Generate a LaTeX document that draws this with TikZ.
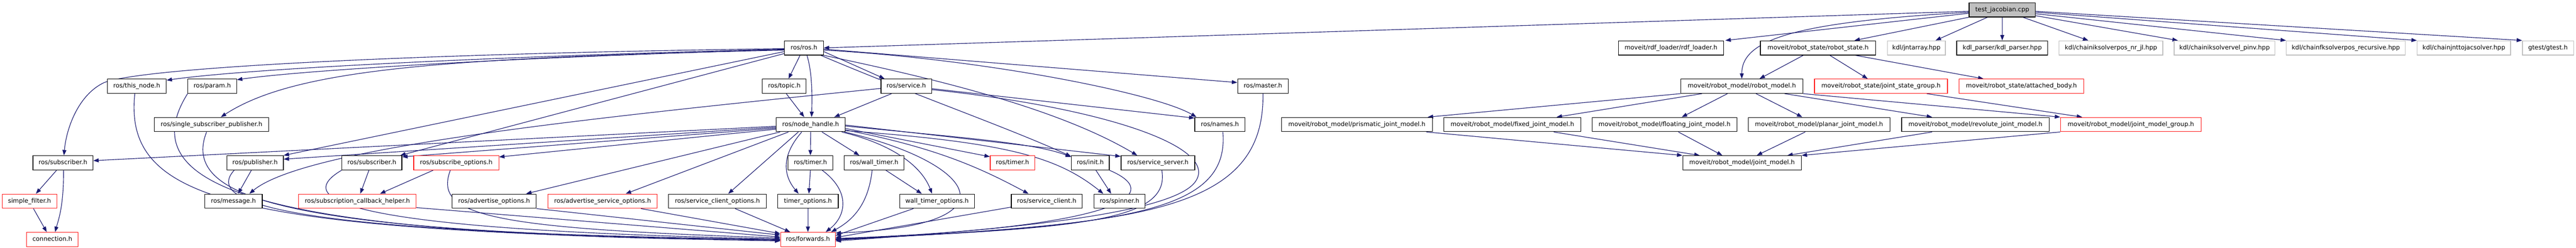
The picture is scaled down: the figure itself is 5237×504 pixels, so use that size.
\documentclass[tikz,border=0pt]{standalone}
\usepackage{fontspec}
\setmainfont{DejaVu Sans}
\usetikzlibrary{arrows.meta}
\definecolor{edgec}{RGB}{25,25,112}
\definecolor{grayb}{RGB}{191,191,191}
\definecolor{redb}{RGB}{255,20,20}
\pgfdeclarelayer{bg}
\pgfdeclarelayer{edges}
\pgfsetlayers{bg,edges,main}
\tikzset{
  bb/.style={draw=black, line width=1.3pt, fill=white, minimum height=29pt, inner sep=0pt,
    text height=9.5pt, text depth=2.8pt, font=\fontsize{12.5}{15}\selectfont},
  rb/.style={bb, draw=redb},
  gb/.style={bb, draw=grayb},
  e/.style={draw=edgec, line width=1.2pt, -{Triangle[length=11pt,width=8pt]}},
}
\begin{document}
\begin{tikzpicture}[x=1pt,y=-1pt]
\begin{pgfonlayer}{bg}
\fill[white] (0,0) rectangle (5237,504);
\end{pgfonlayer}
\useasboundingbox (0,0) rectangle (5237,504);
% row 0
\node[bb, fill=grayb, minimum width=135pt] (tj) at (4070.5,20) {test\_jacobian.cpp};
% row 1
\node[bb, minimum width=79pt] (ros) at (1634.5,97.5) {ros/ros.h};
\node[bb, minimum width=214pt] (rdf) at (3397,97.5) {moveit/rdf\_loader/rdf\_loader.h};
\node[bb, minimum width=234pt] (rs) at (3696,97.5) {moveit/robot\_state/robot\_state.h};
\node[gb, minimum width=118pt] (jnt) at (3896,97.5) {kdl/jntarray.hpp};
\node[bb, minimum width=185pt] (kdlp) at (4070.5,97.5) {kdl\_parser/kdl\_parser.hpp};
\node[gb, minimum width=211pt] (iknr) at (4291.5,97.5) {kdl/chainiksolverpos\_nr\_jl.hpp};
\node[gb, minimum width=205pt] (ikvel) at (4522.5,97.5) {kdl/chainiksolvervel\_pinv.hpp};
\node[gb, minimum width=242pt] (fk) at (4769,97.5) {kdl/chainfksolverpos\_recursive.hpp};
\node[gb, minimum width=190pt] (jac) at (5009,97.5) {kdl/chainjnttojacsolver.hpp};
\node[gb, minimum width=104pt] (gtest) at (5180,97.5) {gtest/gtest.h};
% row 2
\node[bb, minimum width=120pt] (thisnode) at (278,175.5) {ros/this\_node.h};
\node[bb, minimum width=99pt] (param) at (431.5,175.5) {ros/param.h};
\node[bb, minimum width=89pt] (topic) at (1594.5,175.5) {ros/topic.h};
\node[bb, minimum width=103pt] (service) at (1842.5,175.5) {ros/service.h};
\node[bb, minimum width=103pt] (master) at (2567.5,175.5) {ros/master.h};
\node[bb, minimum width=248pt] (rm) at (3541,175.5) {moveit/robot\_model/robot\_model.h};
\node[rb, minimum width=270pt] (jsg) at (3824,175.5) {moveit/robot\_state/joint\_state\_group.h};
\node[rb, minimum width=253pt] (ab) at (4109.5,175.5) {moveit/robot\_state/attached\_body.h};
% row 3
\node[bb, minimum width=232pt] (ssp) at (430,253.5) {ros/single\_subscriber\_publisher.h};
\node[bb, minimum width=140pt] (nh) at (1648,253.5) {ros/node\_handle.h};
\node[bb, minimum width=102pt] (names) at (2480,253.5) {ros/names.h};
\node[bb, minimum width=307pt] (prism) at (2758.5,253.5) {moveit/robot\_model/prismatic\_joint\_model.h};
\node[bb, minimum width=279pt] (fixed) at (3074.5,253.5) {moveit/robot\_model/fixed\_joint\_model.h};
\node[bb, minimum width=294pt] (flt) at (3384,253.5) {moveit/robot\_model/floating\_joint\_model.h};
\node[bb, minimum width=288pt] (planar) at (3698,253.5) {moveit/robot\_model/planar\_joint\_model.h};
\node[bb, minimum width=300pt] (revol) at (4016,253.5) {moveit/robot\_model/revolute\_joint\_model.h};
\node[rb, minimum width=286pt] (jmg) at (4332,253.5) {moveit/robot\_model/joint\_model\_group.h};
% row 4
\node[bb, minimum width=122pt] (subL) at (128,331.5) {ros/subscriber.h};
\node[bb, minimum width=115pt] (pub) at (518.5,331.5) {ros/publisher.h};
\node[bb, minimum width=122pt] (sub2) at (756,331.5) {ros/subscriber.h};
\node[rb, minimum width=173pt] (subopt) at (927.5,331.5) {ros/subscribe\_options.h};
\node[bb, minimum width=91pt] (timerB) at (1647.5,331.5) {ros/timer.h};
\node[bb, minimum width=122pt] (wtimer) at (1777,331.5) {ros/wall\_timer.h};
\node[rb, minimum width=91pt] (timerR) at (2058.5,331.5) {ros/timer.h};
\node[bb, minimum width=77pt] (init) at (2216.5,331.5) {ros/init.h};
\node[bb, minimum width=150pt] (ssrv) at (2354,331.5) {ros/service\_server.h};
\node[bb, minimum width=241pt] (jm) at (3541.5,331.5) {moveit/robot\_model/joint\_model.h};
% row 5
\node[rb, minimum width=111pt] (sf) at (60,409.5) {simple\_filter.h};
\node[bb, minimum width=117pt] (msg) at (474.5,409.5) {ros/message.h};
\node[rb, minimum width=239pt] (sch) at (726.5,409.5) {ros/subscription\_callback\_helper.h};
\node[bb, minimum width=171pt] (advo) at (1004.5,409.5) {ros/advertise\_options.h};
\node[rb, minimum width=222pt] (advso) at (1225,409.5) {ros/advertise\_service\_options.h};
\node[bb, minimum width=199pt] (sco) at (1458.5,409.5) {ros/service\_client\_options.h};
\node[bb, minimum width=123pt] (topt) at (1642.5,409.5) {timer\_options.h};
\node[bb, minimum width=152pt] (wto) at (1905,409.5) {wall\_timer\_options.h};
\node[bb, minimum width=144pt] (sc) at (2128,409.5) {ros/service\_client.h};
\node[bb, minimum width=104pt] (spin) at (2276,409.5) {ros/spinner.h};
% row 6
\node[rb, minimum width=105pt] (conn) at (106.5,487.5) {connection.h};
\node[rb, minimum width=111pt] (fwd) at (1642.5,487.5) {ros/forwards.h};

\begin{pgfonlayer}{edges}
% test_jacobian.cpp
\draw[e] ([yshift=-3pt]tj.west) -- (ros.east);
\draw[e] ([yshift=-7pt]tj.west) -- ([xshift=3pt]rdf.north east);
\draw[e] ([yshift=-5pt]tj.west) .. controls (3650,45) and (3541,80) .. (rm.north);
\draw[e] (tj.south west) -- ([xshift=74pt]rs.north);
\draw[e] ([xshift=-30pt]tj.south) -- ([xshift=39pt]jnt.north);
\draw[e] (tj.south) -- (kdlp.north);
\draw[e] ([xshift=42pt]tj.south) -- ([xshift=-46pt]iknr.north);
\draw[e] ([yshift=-12pt]tj.east) -- ([xshift=-95pt]ikvel.north);
\draw[e] ([yshift=-8pt]tj.east) -- (fk.north west);
\draw[e] ([yshift=-5pt]tj.east) -- (jac.north west);
\draw[e] ([yshift=-3pt]tj.east) -- (gtest.north west);
% robot_state
\draw[e] ([xshift=-30pt]rs.south) -- ([xshift=36pt]rm.north);
\draw[e] ([xshift=24pt]rs.south) -- ([xshift=-27pt]jsg.north);
\draw[e] ([xshift=76pt]rs.south) -- ([xshift=-77pt]ab.north);
\draw[e] ([xshift=93pt]jsg.south) -- ([xshift=-99pt]jmg.north);
% robot_model
\draw[e] (rm.south west) -- ([xshift=144pt]prism.north);
\draw[e] ([xshift=-81pt]rm.south) -- ([xshift=90pt]fixed.north);
\draw[e] ([xshift=-29pt]rm.south) -- ([xshift=35pt]flt.north);
\draw[e] ([xshift=29pt]rm.south) -- ([xshift=-34pt]planar.north);
\draw[e] ([xshift=87pt]rm.south) -- ([xshift=-88pt]revol.north);
\draw[e] (rm.south east) -- (jmg.north west);
% joint models
\draw[e] ([xshift=141pt]prism.south) -- (jm.north west);
\draw[e] ([xshift=84pt]fixed.south) -- ([xshift=-86pt]jm.north);
\draw[e] ([xshift=28pt]flt.south) -- ([xshift=-40pt]jm.north);
\draw[e] ([xshift=-28pt]planar.south) -- ([xshift=30pt]jm.north);
\draw[e] ([xshift=-88pt]revol.south) -- ([xshift=92pt]jm.north);
\draw[e] (jmg.south west) -- (jm.north east);
% ros/ros.h
\draw[e] ([yshift=-2.5pt]ros.west) .. controls (1000,115) and (500,140) .. ([yshift=-3pt]thisnode.north east);
\draw[e] ([yshift=-3.5pt]ros.west) .. controls (1000,118) and (600,145) .. ([yshift=-2pt]param.north east);
\draw[e] ([yshift=-1.5pt]ros.west) .. controls (900,108) and (300,135) .. (212,168) .. controls (160,192) and (135,260) .. ([xshift=2pt]subL.north);
\draw[e] ([yshift=-4.5pt]ros.west) .. controls (900,118) and (600,140) .. ([xshift=19pt]ssp.north);
\draw[e] ([xshift=-8pt]ros.south) -- ([xshift=8.5pt]topic.north);
\draw[e] ([xshift=6pt]ros.south) .. controls (1652,150) and (1651,200) .. ([xshift=2pt]nh.north);
\draw[e] ([yshift=-7.5pt]ros.east) -- ([xshift=-44pt]service.north);
\draw[e] ([yshift=-2.5pt]ros.east) -- ([yshift=7.5pt]master.west);
\draw[e] ([yshift=-4.5pt]ros.east) .. controls (2000,120) and (2350,190) .. ([xshift=4pt]names.north west);
\draw[e] ([xshift=-6pt]ros.south east) .. controls (1850,190) and (2050,260) .. ([yshift=-2pt]init.north west);
\draw[e] (ros.south east) .. controls (1900,160) and (2150,220) .. ([xshift=-42pt]ssrv.north);
\draw[e] ([yshift=-7.5pt]ros.west) -- (pub.north east);
\draw[e] ([yshift=-11.5pt]ros.west) -- ([xshift=-4pt]sub2.north east);
\draw[e] ([xshift=4pt]topic.south) -- ([xshift=-13pt]nh.north);
% ros/service.h
\draw[e] ([xshift=-30pt]service.south) -- ([xshift=48pt]nh.north);
\draw[e] ([yshift=-5pt]service.east) -- ([yshift=-2pt]names.north west);
\draw[e] ([yshift=-4.5pt]service.west) .. controls (1200,240) and (620,300) .. ([xshift=32.5pt]msg.north);
\draw[e] ([yshift=-7pt]service.east) .. controls (2250,220) and (2480,300) .. (2430,370) .. controls (2380,440) and (2000,470) .. ([yshift=-3pt]fwd.east);
% master, names, service_server, init
\draw[e] (master.south) .. controls (2572,440) and (2300,455) .. ([yshift=-1pt]fwd.east);
\draw[e] ([xshift=6pt]names.south) .. controls (2500,430) and (2300,460) .. (fwd.east);
\draw[e] ([xshift=8pt]ssrv.south) .. controls (2380,450) and (2200,465) .. ([yshift=1pt]fwd.east);
\draw[e] (init.south east) .. controls (2380,400) and (2250,465) .. ([yshift=2pt]fwd.east);
\draw[e] ([xshift=11.5pt]init.south) -- ([xshift=-17pt]spin.north);
% ros/node_handle.h
\draw[e] ([yshift=-3.5pt]nh.west) -- ([yshift=4.5pt]subL.east);
\draw[e] ([yshift=-5.5pt]nh.west) -- ([yshift=7.5pt]pub.east);
\draw[e] ([yshift=-7.5pt]nh.west) -- ([yshift=-3pt]sub2.north east);
\draw[e] ([yshift=-9.5pt]nh.west) -- ([yshift=12pt]subopt.east);
\draw[e] ([xshift=-62pt]nh.south) -- ([xshift=65pt]advo.north);
\draw[e] ([xshift=-45pt]nh.south) -- ([xshift=47pt]advso.north);
\draw[e] ([xshift=-25pt]nh.south) -- ([xshift=22pt]sco.north);
\draw[e] ([xshift=-18pt]nh.south) .. controls (1585,320) and (1595,360) .. ([xshift=-19pt]topt.north);
\draw[e] (nh.south) -- (timerB.north);
\draw[e] ([xshift=23pt]nh.south) -- ([xshift=-30pt]wtimer.north);
\draw[e] ([xshift=63pt]nh.south) .. controls (1800,290) and (1870,330) .. ([xshift=-10pt]wto.north);
\draw[e] ([xshift=-2pt]nh.south east) .. controls (1980,330) and (2080,460) .. ([yshift=-2pt]fwd.north east);
\draw[e] ([yshift=-8pt]nh.east) -- ([yshift=12.5pt]timerR.west);
\draw[e] ([yshift=-11pt]nh.east) .. controls (1900,300) and (1990,340) .. ([xshift=-37pt]sc.north);
\draw[e] ([yshift=-3pt]nh.east) .. controls (1950,280) and (2100,290) .. ([yshift=12pt]init.west);
\draw[e] ([yshift=-1pt]nh.east) -- ([yshift=-2pt]ssrv.north west);
\draw[e] ([yshift=-12.5pt]nh.east) .. controls (2050,290) and (2150,320) .. ([xshift=-33pt]spin.north);
% timers
\draw[e] (timerB.south) -- ([xshift=2pt]topt.north);
\draw[e] ([xshift=24pt]timerB.south) .. controls (1730,390) and (1720,440) .. ([xshift=-20pt]fwd.north east);
\draw[e] (topt.south) -- (fwd.north);
\draw[e] ([xshift=24pt]wtimer.south) -- ([xshift=-31pt]wto.north);
\draw[e] ([xshift=-4pt]wtimer.south) .. controls (1765,420) and (1730,450) .. ([xshift=-9pt]fwd.north east);
\draw[e] ([xshift=-48pt]wto.south) -- ([yshift=8pt]fwd.east);
\draw[e] ([yshift=3pt]sc.south west) -- ([yshift=4pt]fwd.east);
% left side into forwards
\draw[e] ([xshift=36pt]sco.south) -- ([xshift=-36pt]fwd.north);
\draw[e] ([xshift=78pt]advso.south) -- ([yshift=12pt]fwd.west);
\draw[e] (advo.south east) -- ([yshift=9pt]fwd.west);
\draw[e] ([xshift=-12pt]subopt.south) .. controls (880,440) and (1000,465) .. ([yshift=3pt]fwd.west);
\draw[e] ([xshift=-47pt]subopt.south) -- ([xshift=46pt]sch.north);
\draw[e] ([xshift=-6pt]sub2.south) -- ([xshift=6pt]sch.north);
\draw[e] (sub2.south west) .. controls (570,420) and (800,470) .. ([yshift=1pt]fwd.west);
\draw[e] ([yshift=2pt]sch.south east) -- ([yshift=5pt]fwd.west);
\draw[e] ([xshift=-7.5pt]pub.south) -- ([xshift=9.5pt]msg.north);
\draw[e] ([xshift=-42.5pt]pub.south) .. controls (400,430) and (700,475) .. (fwd.west);
\draw[e] ([xshift=-10pt]ssp.south) .. controls (360,420) and (650,475) .. ([yshift=-1pt]fwd.west);
\draw[e] (param.south west) .. controls (250,400) and (600,480) .. ([yshift=-2pt]fwd.west);
\draw[e] ([xshift=-4pt]thisnode.south) .. controls (250,420) and (500,470) .. ([yshift=-3pt]fwd.west);
% message_filters side
\draw[e] ([xshift=-13pt]subL.south) -- ([xshift=13pt]sf.north);
\draw[e] ([xshift=1pt]subL.south) .. controls (130,420) and (118,450) .. ([xshift=5.5pt]conn.north);
\draw[e] ([xshift=8pt]sf.south) -- ([xshift=-11.5pt]conn.north);
\end{pgfonlayer}
\end{tikzpicture}
\end{document}
